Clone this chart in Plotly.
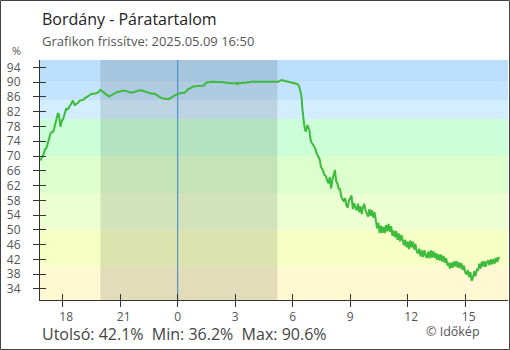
import plotly.graph_objects as go

# ---------------- data ----------------
times = [
    "16:50", "16:53", "16:56", "16:59", "17:02", "17:05", "17:09", "17:12", "17:15", "17:19",
    "17:22", "17:26", "17:30", "17:33", "17:36", "17:40", "17:43", "17:45", "17:48", "17:50",
    "17:53", "17:56", "17:58", "18:01", "18:04", "18:07", "18:11", "18:14", "18:17", "18:22",
    "18:27", "18:32", "18:35", "18:38", "18:43", "18:48", "18:53", "19:04", "19:09", "19:19",
    "19:30", "19:45", "19:51", "19:58", "20:06", "20:12", "20:17", "20:25", "20:32", "20:40",
    "20:48", "21:04", "21:14", "21:22", "21:30", "21:40", "21:48", "21:56", "22:06", "22:18",
    "22:33", "22:49", "22:59", "23:07", "23:15", "23:31", "23:41", "23:52", "00:07", "00:23",
    "00:33", "00:49", "01:15", "01:22", "01:28", "01:31", "01:46", "02:23", "02:44", "03:05",
    "03:07", "03:09", "03:36", "03:52", "04:39", "05:15", "05:22", "05:26", "05:36", "05:52",
    "06:07", "06:14", "06:18", "06:21", "06:23", "06:26", "06:28", "06:30", "06:33", "06:36",
    "06:39", "06:41", "06:44", "06:46", "06:49", "06:52", "06:55", "06:57", "07:01", "07:04",
    "07:07", "07:10", "07:15", "07:20", "07:25", "07:28", "07:31", "07:34", "07:39",
    "07:44", "07:48", "07:52", "07:56", "08:00", "08:04", "08:08", "08:12", "08:16", "08:20",
    "08:24", "08:28", "08:32", "08:36", "08:40", "08:44", "08:48", "08:52", "08:56", "09:00",
    "09:04", "09:08", "09:12", "09:16", "09:20", "09:24", "09:28", "09:32", "09:36", "09:40",
    "09:44", "09:48", "09:52", "09:56", "10:00", "10:04", "10:08", "10:12", "10:16", "10:20",
    "10:24", "10:28", "10:32", "10:36", "10:40", "10:44", "10:48", "10:52", "10:56", "11:00",
    "11:04", "11:08", "11:12", "11:16", "11:20", "11:24", "11:28", "11:32", "11:36", "11:40",
    "11:44", "11:48", "11:52", "11:56", "12:00", "12:04", "12:08", "12:12", "12:16", "12:20",
    "12:24", "12:28", "12:32", "12:36", "12:40", "12:44", "12:48", "12:52", "12:56", "13:00",
    "13:04", "13:08", "13:12", "13:16", "13:20", "13:24", "13:28", "13:32", "13:36", "13:40",
    "13:44", "13:48", "13:52", "13:56", "14:00", "14:04", "14:08", "14:12", "14:16", "14:20",
    "14:24", "14:28", "14:32", "14:36", "14:40", "14:44", "14:48", "14:52", "14:56", "15:00",
    "15:04", "15:08", "15:12", "15:16", "15:20", "15:24", "15:28", "15:32", "15:36", "15:40",
    "15:44", "15:48", "15:52", "15:56", "16:00", "16:04", "16:08", "16:12", "16:16", "16:20",
    "16:24", "16:28", "16:32", "16:36", "16:40", "16:44", "16:46",
]
humidity = [
    68.8, 69.6, 69.8, 70.2, 71.0, 71.8, 72.1, 73.2, 74.2, 75.7,
    76.1, 76.4, 76.6, 77.3, 78.3, 79.7, 80.8, 81.6, 81.3, 79.5,
    77.9, 79.0, 79.7, 79.9, 80.8, 82.2, 82.9, 82.6, 82.8, 83.5,
    84.3, 85.0, 84.2, 83.8, 84.1, 84.4, 85.0, 85.2, 85.6, 86.2,
    86.8, 87.0, 87.2, 87.9, 87.4, 86.9, 86.5, 86.1, 86.4, 86.9,
    87.2, 87.6, 87.7, 87.5, 87.2, 87.2, 87.5, 87.7, 87.8, 87.4,
    87.0, 86.8, 86.1, 85.8, 85.6, 85.4, 85.9, 86.5, 87.0, 87.2,
    88.1, 88.8, 89.0, 89.1, 89.8, 89.9, 90.1, 90.0, 89.7, 89.7,
    89.3, 89.7, 89.9, 90.1, 90.1, 90.1, 90.5, 90.6, 90.3, 90.0,
    89.7, 89.5, 89.2, 88.6, 87.9, 86.8, 85.6, 82.9, 79.7, 78.4,
    77.0, 76.6, 77.8, 78.4, 77.7, 77.0, 75.0, 73.9, 73.4, 73.0,
    72.6, 72.1, 70.7, 69.8, 68.9, 67.1, 66.8, 66.2, 64.9,
    64.5, 63.3, 62.6, 64.3, 61.2, 63.5, 65.2, 66.2, 63.2, 62.5,
    61.1, 61.0, 59.0, 58.4, 57.6, 58.6, 56.6, 56.0, 57.9, 58.6,
    59.3, 55.6, 57.3, 56.0, 55.3, 57.1, 54.8, 56.4, 54.3, 56.2,
    57.0, 55.2, 54.4, 53.6, 55.6, 53.8, 55.3, 53.3, 54.8, 52.6,
    50.4, 51.9, 49.1, 51.1, 49.2, 50.8, 49.1, 51.3, 49.6, 51.6,
    49.5, 51.0, 48.4, 49.8, 48.0, 49.7, 47.3, 49.0, 46.9, 48.6,
    46.7, 45.8, 47.3, 45.3, 46.8, 44.8, 47.1, 45.3, 46.8, 44.7,
    46.2, 44.1, 43.6, 44.9, 42.8, 44.4, 42.6, 44.5, 43.0, 42.4,
    44.1, 42.3, 44.4, 42.5, 44.2, 42.4, 43.7, 41.9, 43.4, 41.7,
    43.3, 41.4, 42.9, 41.1, 42.3, 40.6, 40.9, 39.5, 41.1, 39.7,
    41.4, 40.1, 41.6, 39.8, 41.2, 39.6, 41.0, 39.1, 40.3, 38.4,
    37.9, 39.1, 37.2, 38.6, 36.2, 37.1, 38.8, 37.4, 39.2, 39.1,
    40.8, 39.5, 41.4, 40.1, 41.5, 40.0, 41.3, 41.7, 40.4, 42.0,
    40.7, 42.1, 40.9, 42.4, 41.3, 42.6, 42.1,
]

band_edges = [31, 40, 50, 60, 70, 80, 85, 90, 96]
band_colors = ["#fff8d2", "#f6ffc4", "#ecffd2", "#ddffce", "#ccffd8", "#d3eeff", "#c4e4fd", "#bbdefb"]

night_start, night_end = "19:58", "05:12"
tick_hours = [18, 21, 24, 27, 30, 33, 36, 39]
tick_labels = ["18", "21", "0", "3", "6", "9", "12", "15"]
x_range = [16.816, 41.229]
y_range = [31, 96]
y_ticks = list(range(34, 95, 4))

title = "Bordány - Páratartalom"
subtitle = "Grafikon frissítve: 2025.05.09 16:50"
stats = "Utolsó: 42.1%  Min: 36.2%  Max: 90.6%"
credit = "© Időkép"


def to_hours(t):
    h, m = map(int, t.split(":"))
    return h + m / 60.0


# continuous hour axis (day 2 hours get +24)
hours = []
prev = None
offset = 0
for t in times:
    v = to_hours(t)
    if prev is not None and v < prev:
        offset += 24
    prev = v
    hours.append(v + offset)

ns = to_hours(night_start)
ne = to_hours(night_end) + 24

# labels in the reference start slightly left of their tick (left-aligned look)
shown_labels = [("\u2007" + s) if len(s) > 1 else s for s in tick_labels]

FONT = "Open Sans"
fig = go.Figure()
fig.add_trace(go.Scatter(x=hours, y=humidity, mode="lines",
                         line=dict(color="#3dbb3d", width=2), showlegend=False,
                         hoverinfo="skip"))
# helper trace for the second (inside-tick) axes
fig.add_trace(go.Scatter(x=[hours[0]], y=[humidity[0]], xaxis="x2", yaxis="y2",
                         mode="markers", marker=dict(opacity=0), showlegend=False,
                         hoverinfo="skip"))

shapes = []
for lo, hi, col in zip(band_edges[:-1], band_edges[1:], band_colors):
    shapes.append(dict(type="rect", xref="paper", yref="y", x0=0, x1=1, y0=lo, y1=hi,
                       fillcolor=col, line=dict(width=0), layer="below"))
shapes.append(dict(type="rect", xref="x", yref="paper", x0=ns, x1=ne, y0=0, y1=1,
                   fillcolor="rgba(0,0,0,0.11)", line=dict(width=0), layer="below"))
shapes.append(dict(type="line", xref="x", yref="paper", x0=24, x1=24, y0=0, y1=1,
                   line=dict(color="#3a84c4", width=1), layer="below"))
# outer frame
W, H = 510, 350
L, R, T, B = 40, 2, 60, 50
pw, ph = W - L - R, H - T - B
shapes.append(dict(type="rect", xref="paper", yref="paper",
                   x0=(0.5 - L) / pw, x1=(W - 0.5 - L) / pw,
                   y0=(H - B - (H - 0.5)) / ph, y1=(H - B - 0.5) / ph,
                   line=dict(color="#444444", width=1), fillcolor="rgba(0,0,0,0)"))


def py(p):
    return (H - B - p) / ph


def px(p):
    return (p - L) / pw


annotations = [
    dict(text=title, x=0, y=py(19), xref="paper", yref="paper", xanchor="left",
         yanchor="middle", showarrow=False, font=dict(family=FONT, size=16, color="#222")),
    dict(text=subtitle, x=0, y=py(41), xref="paper", yref="paper", xanchor="left",
         yanchor="middle", showarrow=False, font=dict(family=FONT, size=13, color="#555")),
    dict(text="%", x=px(16.5), y=py(51), xref="paper", yref="paper", xanchor="center",
         yanchor="middle", showarrow=False, font=dict(family=FONT, size=11, color="#555")),
    dict(text=stats, x=0, y=py(334), xref="paper", yref="paper", xanchor="left",
         yanchor="middle", showarrow=False, font=dict(family=FONT, size=16, color="#444")),
    dict(text=credit, x=px(482), y=py(331.5), xref="paper", yref="paper", xanchor="right",
         yanchor="middle", showarrow=False, font=dict(family=FONT, size=12.5, color="#555")),
]

axis_common = dict(showgrid=False, zeroline=False, showline=True, linecolor="#333",
                   linewidth=1, tickcolor="#333", ticklen=6, tickwidth=1)

fig.update_layout(
    width=W, height=H, margin=dict(l=L, r=R, t=T, b=B, pad=0),
    paper_bgcolor="white", plot_bgcolor="white",
    font=dict(family=FONT, color="#555", size=12),
    shapes=shapes, annotations=annotations,
    xaxis=dict(range=x_range, tickvals=tick_hours, ticktext=shown_labels, ticks="outside",
               tickfont=dict(size=12, color="#555"), **axis_common),
    yaxis=dict(range=y_range, tickvals=y_ticks, ticks="outside", ticklabelstandoff=10,
               tickfont=dict(size=12, color="#555"), **axis_common),
    xaxis2=dict(range=x_range, tickvals=tick_hours, ticks="inside", showticklabels=False,
                overlaying="x", anchor="y2", side="bottom", **axis_common),
    yaxis2=dict(range=y_range, tickvals=y_ticks, ticks="inside", showticklabels=False,
                overlaying="y", anchor="x2", side="left", **axis_common),
)

fig.write_html("out.html")
